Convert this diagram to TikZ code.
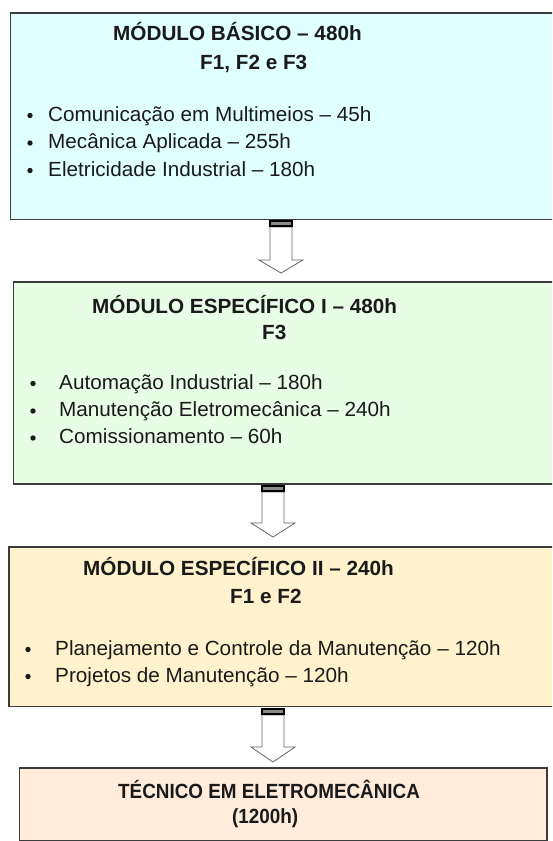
\documentclass[tikz,border=0pt]{standalone}
\usepackage{fontspec}
\usetikzlibrary{calc}
\setmainfont{Liberation Sans}
\newfontfamily\wf[FakeStretch=1.01]{Liberation Sans}
\newfontfamily\nf[FakeStretch=0.92]{Liberation Sans}
\definecolor{cyanfill}{HTML}{E0FFFF}
\definecolor{greenfill}{HTML}{E8FDE6}
\definecolor{yellowfill}{HTML}{FFF2CC}
\definecolor{peachfill}{HTML}{FFECDA}
\definecolor{edgecol}{HTML}{3C3C3C}
\definecolor{txt}{HTML}{1A1A1A}
\tikzset{
  modbox/.style={draw=edgecol, line width=1.5pt, rectangle, inner sep=0pt},
  ttl/.style={anchor=base west, inner sep=0pt, text=txt, font=\wf\bfseries\fontsize{20.5}{23}\selectfont},
  item/.style={anchor=base west, inner sep=0pt, text=txt, font=\wf\fontsize{20.5}{23}\selectfont},
  ttlN/.style={anchor=base west, inner sep=0pt, text=txt, font=\nf\bfseries\fontsize{20.5}{23}\selectfont},
  dotb/.style={fill=txt},
  arrbody/.style={draw=black!60, fill=white, line width=0.8pt, line join=miter},
  capband/.style={fill=black!45, draw=black, line width=1.2pt}
}
\newcommand{\fatarr}[5]{% name, xc, ytop, yhead, ytip
  \coordinate (#1) at (#2,#3);
  \draw[arrbody] ($(#1)+(-11,7)$) -- ($(#1)+(11,7)$) -- ($(#1)+(11,#4-#3)$) -- ($(#1)+(22,#4-#3)$)
     -- ($(#1)+(0,#5-#3)$) -- ($(#1)+(-22,#4-#3)$) -- ($(#1)+(-11,#4-#3)$) -- cycle;
  \draw[capband] ($(#1)+(-11,1)$) rectangle ($(#1)+(11,6)$);
}
\begin{document}
\begin{tikzpicture}[x=1pt,y=-1pt]
\clip (0,0) rectangle (552,841);
\fill[white] (0,0) rectangle (552,841);

% boxes
\node[modbox, fill=cyanfill, anchor=north west, minimum width=560pt, minimum height=206.5pt] (b1) at (9.5,12) {};
\node[modbox, fill=greenfill, anchor=north west, minimum width=560pt, minimum height=202pt] (b2) at (12.5,281) {};
\node[modbox, fill=yellowfill, anchor=north west, minimum width=560pt, minimum height=159.5pt] (b3) at (8,546) {};
\node[modbox, fill=peachfill, anchor=north west, minimum width=527.5pt, minimum height=73pt] (b4) at (18.5,767) {};

% arrows
\fatarr{a1}{281}{220}{260}{273}
\fatarr{a2}{273}{485}{523}{537}
\fatarr{a3}{273}{708}{747}{762}

% box 1 text
\node[ttl] (t1a) at (113,40.5) {MÓDULO BÁSICO – 480h};
\node[ttl] (t1b) at (200,69.5) {F1, F2 e F3};
\fill[dotb] (30,115.5) circle (2.7);
\fill[dotb] (30,143) circle (2.7);
\fill[dotb] (30,170.5) circle (2.7);
\node[item] (i11) at (48,121) {Comunicação em Multimeios – 45h};
\node[item] (i12) at (48,148.5) {Mecânica Aplicada – 255h};
\node[item] (i13) at (48,176) {Eletricidade Industrial – 180h};

% box 2 text
\node[ttl] (t2a) at (92,313.5) {MÓDULO ESPECÍFICO I – 480h};
\node[ttl] (t2b) at (262,339) {F3};
\fill[dotb] (33,383.5) circle (2.7);
\fill[dotb] (33,411) circle (2.7);
\fill[dotb] (33,438) circle (2.7);
\node[item] (i21) at (59,389) {Automação Industrial – 180h};
\node[item] (i22) at (59,416.5) {Manutenção Eletromecânica – 240h};
\node[item] (i23) at (59,443.5) {Comissionamento – 60h};

% box 3 text
\node[ttl] (t3a) at (83,575.5) {MÓDULO ESPECÍFICO II – 240h};
\node[ttl] (t3b) at (230,603.5) {F1 e F2};
\fill[dotb] (28,649.5) circle (2.7);
\fill[dotb] (28,676.5) circle (2.7);
\node[item] (i31) at (55,655) {Planejamento e Controle da Manutenção – 120h};
\node[item] (i32) at (55,682) {Projetos de Manutenção – 120h};

% box 4 text
\node[ttlN] (t4a) at (118,798.5) {TÉCNICO EM ELETROMECÂNICA};
\node[ttlN] (t4b) at (232,823.5) {(1200h)};
\end{tikzpicture}
\end{document}
